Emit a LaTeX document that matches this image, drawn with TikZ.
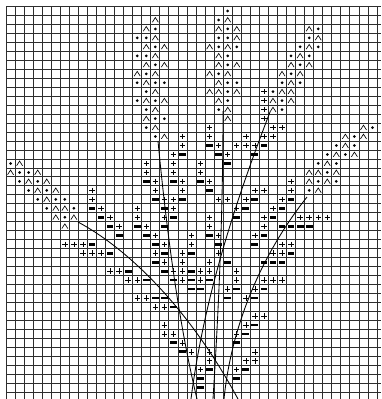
\documentclass[tikz,border=0pt]{standalone}
\begin{document}
\begin{tikzpicture}[x=1pt,y=-1pt,
  gridline/.style={black!82,line width=0.9pt},
  chev/.style={black,line width=0.65pt},
  plusline/.style={black,line width=0.65pt},
  stemline/.style={black,line width=0.85pt}]
\useasboundingbox (0,0) rectangle (381,399);
\fill[white] (0,0) rectangle (381,399);
% grid
\foreach \i in {0,...,41} \draw[gridline] ({6+9.05*\i},6.5) -- ({6+9.05*\i},399);
\foreach \j in {0,...,43} \draw[gridline] (6,{6.5+8.97*\j}) -- (381,{6.5+8.97*\j});
% chevrons
\foreach \c/\r in {16/1,15/2,16/3,15/4,17/4,16/5,15/6,17/6,14/7,16/7,15/8,16/9,15/10,17/10,16/11,15/12,16/13,17/14,
 24/1,23/2,25/2,25/3,22/4,24/4,23/5,23/6,25/6,22/7,24/7,23/8,22/9,23/9,25/9,23/10,24/11,24/12,
 33/2,34/3,33/4,32/5,31/6,33/6,30/7,32/7,31/8,30/9,31/9,29/10,31/10,29/11,
 1/17,0/18,3/18,2/19,4/19,3/20,5/20,4/21,5/22,6/22,5/23,7/23,6/24,
 39/13,37/14,39/14,37/15,36/16,38/16,35/17,33/18,34/18,36/18,33/19,35/19,34/20}{
  \pgfmathsetmacro\px{6+9.05*(\c+0.5)}
  \pgfmathsetmacro\py{6.5+8.97*(\r+0.5)}
  \draw[chev] (\px-3,\py+2.3) -- (\px,\py-2.4) -- (\px+3,\py+2.3);
}
% dots
\foreach \c/\r in {16/2,14/3,15/3,16/4,14/5,15/5,16/6,15/7,14/8,16/8,17/8,15/9,14/10,16/10,15/11,16/12,17/12,15/13,16/14,
 24/0,23/1,24/2,23/3,24/3,23/4,25/4,24/5,24/6,23/7,24/8,25/8,24/9,24/10,23/11,
 34/2,33/3,32/4,34/4,31/5,33/5,32/6,31/7,30/8,32/8,29/9,30/10,30/11,
 0/17,1/18,2/18,1/19,3/19,2/20,4/20,3/21,5/21,6/21,4/22,7/22,6/23,
 40/13,38/14,36/15,38/15,35/16,37/16,34/17,36/17,35/18,34/19,36/19,33/20}{
  \pgfmathsetmacro\px{6+9.05*(\c+0.5)}
  \pgfmathsetmacro\py{6.5+8.97*(\r+0.5)}
  \fill (\px,\py) circle (1.5);
}
% plus
\foreach \c/\r in {28/9,28/10,28/11,28/12,29/13,30/13,28/14,29/14,27/15,
 22/13,22/14,23/15,24/16,19/14,19/15,18/16,26/14,25/15,26/15,
 15/17,15/18,16/19,16/20,17/21,18/17,18/18,21/17,21/18,22/19,
 19/19,19/20,18/21,18/22,17/23,23/21,24/21,
 14/22,14/23,15/24,16/25,17/26,16/27,17/28,
 20/25,20/26,19/27,19/28,22/23,22/24,23/25,23/27,22/28,
 27/20,28/20,26/21,25/22,31/19,31/20,30/21,29/22,28/23,28/24,27/25,
 32/23,33/23,34/23,35/23,30/26,31/26,29/27,30/27,
 28/30,29/30,30/30,27/31,26/32,27/34,28/34,27/38,27/39,26/39,26/35,25/36,25/40,
 9/20,9/21,10/22,11/23,12/24,
 6/26,7/26,8/26,8/27,9/27,10/27,11/29,12/29,13/30,14/30,
 14/32,15/32,16/33,17/33,18/29,19/29,19/30,
 17/35,17/36,18/36,19/37,20/38,21/29,22/29,21/30,
 25/29,25/30,24/31,22/38,22/39,21/40}{
  \pgfmathsetmacro\px{6+9.05*(\c+0.5)}
  \pgfmathsetmacro\py{6.5+8.97*(\r+0.5)}
  \draw[plusline] (\px-2.7,\py) -- (\px+2.7,\py) (\px,\py-2.7) -- (\px,\py+2.7);
}
% bars
\foreach \c/\r in {28/15,27/16,22/15,23/16,24/17,19/16,
 15/19,16/21,17/22,18/19,21/19,22/20,19/21,18/23,17/24,
 14/24,15/25,16/26,17/27,16/28,20/27,22/25,23/26,24/28,
 27/21,26/22,25/23,31/21,30/22,29/23,28/25,27/26,
 30/24,31/24,32/24,33/24,31/27,28/28,29/28,30/28,
 28/31,27/32,27/35,26/36,25/37,26/40,25/41,
 9/22,10/23,11/24,12/25,9/26,11/27,13/29,15/30,
 16/32,17/32,18/33,17/29,20/29,18/30,20/30,20/31,
 18/37,19/38,22/30,21/31,25/31,24/32,22/40,21/41,21/42}{
  \pgfmathsetmacro\px{6+9.05*(\c+0.5)}
  \pgfmathsetmacro\py{6.5+8.97*(\r+0.5)}
  \fill (\px-3.4,\py-1.4) rectangle (\px+3.4,\py+1.4);
}
% stems
\coordinate (sA) at (158,141);
\coordinate (eA) at (197,399);
\coordinate (sB) at (223,111);
\coordinate (eB) at (213,399);
\coordinate (sC) at (270,112);
\coordinate (eC) at (191,399);
\coordinate (sD) at (78,222);
\coordinate (eD) at (238,399);
\coordinate (sE) at (307,197);
\coordinate (eE) at (224,399);
\draw[stemline] (sA) .. controls (166,225) and (178,320) .. (eA);
\draw[stemline] (sB) .. controls (223,220) and (218,320) .. (eB);
\draw[stemline] (sC) .. controls (240,190) and (205,290) .. (eC);
\draw[stemline] (sD) .. controls (130,250) and (190,310) .. (eD);
\draw[stemline] (sE) .. controls (265,250) and (232,320) .. (eE);
\end{tikzpicture}
\end{document}
